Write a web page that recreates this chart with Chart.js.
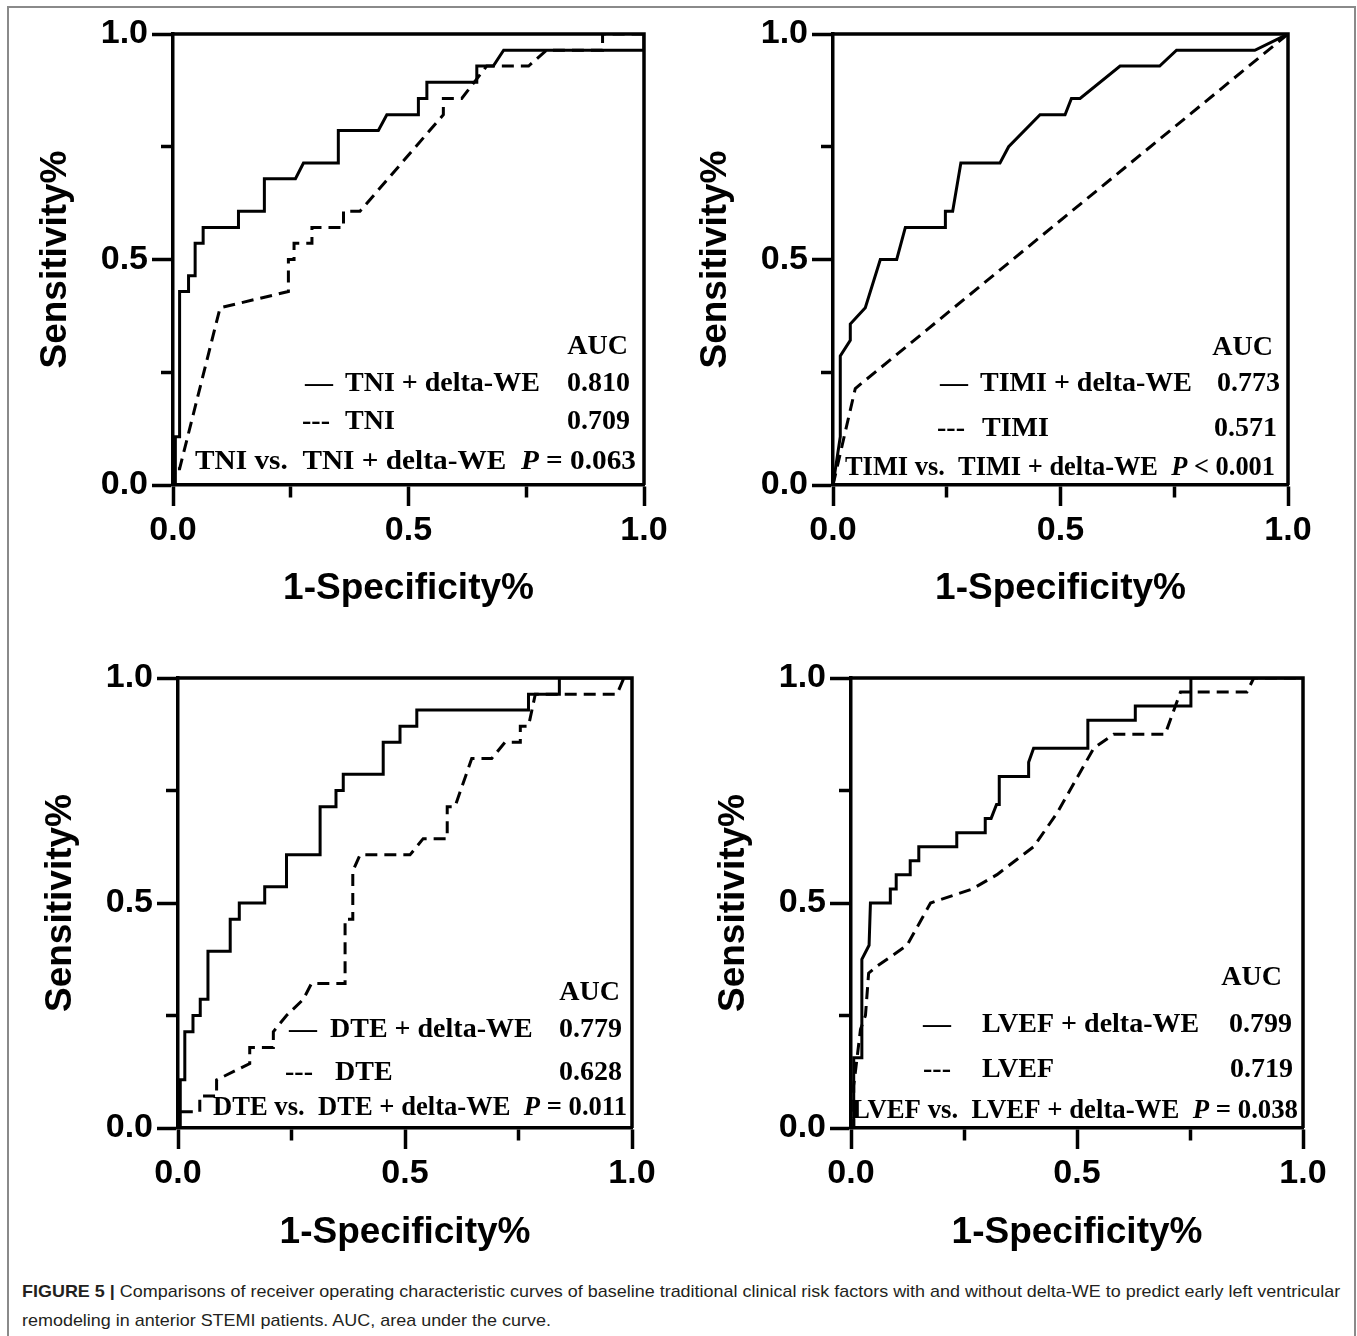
<!DOCTYPE html>
<html>
<head>
<meta charset="utf-8">
<title>Figure 5 ROC curves</title>
<script src="https://cdn.jsdelivr.net/npm/chart.js"></script>
<style>
  body { margin: 0; background: #fff; width: 1357px; height: 1336px; position: relative; overflow: hidden; }
  canvas { position: absolute; }
  #frame { position: absolute; left: 7px; top: 6px; width: 1349px; height: 1345px; border: 2px solid #8a8a8a; box-sizing: border-box; }
  .cap { position: absolute; left: 22px; white-space: nowrap; font: 17px/29px "Liberation Sans", Arial, sans-serif; color: #231f20; transform-origin: 0 0; }
  #cap1 { top: 1277px; }
  #cap2 { top: 1306px; }
</style>
</head>
<body>
<div id="frame"></div>
<canvas id="c0" width="700" height="620" style="left:0px;top:0px"></canvas>
<canvas id="c1" width="697" height="620" style="left:660px;top:0px"></canvas>
<canvas id="c2" width="700" height="620" style="left:5px;top:644px"></canvas>
<canvas id="c3" width="679" height="620" style="left:678px;top:644px"></canvas>
<div class="cap" id="cap1"><b>FIGURE 5 |</b> Comparisons of receiver operating characteristic curves of baseline traditional clinical risk factors with and without delta-WE to predict early left ventricular</div>
<div class="cap" id="cap2">remodeling in anterior STEMI patients. AUC, area under the curve.</div>

<script>
// ---- data (x = 1-specificity, y = sensitivity) ----

// TNI panel
var tniComboX = [0, 0.005, 0.005, 0.014, 0.014, 0.033, 0.033, 0.047, 0.047, 0.064, 0.064, 0.139, 0.139, 0.194, 0.194, 0.26, 0.277, 0.351, 0.351, 0.436, 0.454, 0.521, 0.521, 0.539, 0.539, 0.645, 0.645, 0.68, 0.702, 1, 1];
var tniComboY = [0, 0, 0.107, 0.107, 0.429, 0.429, 0.464, 0.464, 0.536, 0.536, 0.571, 0.571, 0.607, 0.607, 0.679, 0.679, 0.714, 0.714, 0.786, 0.786, 0.821, 0.821, 0.857, 0.857, 0.893, 0.893, 0.929, 0.929, 0.964, 0.964, 1];
var tniX = [0, 0.005, 0.014, 0.1, 0.245, 0.245, 0.257, 0.257, 0.295, 0.295, 0.362, 0.362, 0.397, 0.574, 0.574, 0.613, 0.666, 0.755, 0.793, 0.912, 0.912, 1];
var tniY = [0, 0.036, 0.036, 0.393, 0.429, 0.5, 0.5, 0.536, 0.536, 0.571, 0.571, 0.607, 0.607, 0.821, 0.857, 0.857, 0.929, 0.929, 0.964, 0.964, 1, 1];

// TIMI panel
var timiComboX = [0, 0.016, 0.016, 0.038, 0.038, 0.071, 0.104, 0.14, 0.159, 0.247, 0.247, 0.263, 0.281, 0.367, 0.386, 0.455, 0.51, 0.524, 0.543, 0.631, 0.718, 0.755, 0.927, 1];
var timiComboY = [0, 0.107, 0.286, 0.321, 0.357, 0.393, 0.5, 0.5, 0.571, 0.571, 0.607, 0.607, 0.714, 0.714, 0.75, 0.821, 0.821, 0.857, 0.857, 0.929, 0.929, 0.964, 0.964, 1];
var timiX = [0, 0.049, 1];
var timiY = [0, 0.214, 1];

// DTE panel
var dteComboX = [0, 0.005, 0.005, 0.015, 0.015, 0.033, 0.033, 0.049, 0.049, 0.066, 0.066, 0.115, 0.115, 0.135, 0.135, 0.191, 0.191, 0.239, 0.239, 0.313, 0.313, 0.348, 0.348, 0.364, 0.364, 0.452, 0.452, 0.489, 0.489, 0.526, 0.526, 0.772, 0.772, 0.84, 0.84, 1];
var dteComboY = [0, 0, 0.107, 0.107, 0.214, 0.214, 0.25, 0.25, 0.286, 0.286, 0.393, 0.393, 0.464, 0.464, 0.5, 0.5, 0.536, 0.536, 0.607, 0.607, 0.714, 0.714, 0.75, 0.75, 0.786, 0.786, 0.857, 0.857, 0.893, 0.893, 0.929, 0.929, 0.964, 0.964, 1, 1];
var dteX = [0, 0, 0.037, 0.048, 0.048, 0.085, 0.085, 0.158, 0.158, 0.21, 0.21, 0.239, 0.276, 0.294, 0.368, 0.368, 0.385, 0.385, 0.401, 0.511, 0.54, 0.593, 0.593, 0.61, 0.647, 0.691, 0.72, 0.754, 0.754, 0.772, 0.787, 0.967, 0.982, 1];
var dteY = [0, 0.036, 0.036, 0.036, 0.071, 0.071, 0.107, 0.143, 0.179, 0.179, 0.214, 0.25, 0.286, 0.321, 0.321, 0.464, 0.464, 0.571, 0.607, 0.607, 0.643, 0.643, 0.714, 0.714, 0.821, 0.821, 0.857, 0.857, 0.893, 0.893, 0.964, 0.964, 1, 1];

// LVEF panel
var lvefComboX = [0, 0.006, 0.006, 0.024, 0.024, 0.04, 0.043, 0.087, 0.087, 0.1, 0.1, 0.131, 0.131, 0.15, 0.15, 0.234, 0.234, 0.297, 0.297, 0.31, 0.322, 0.328, 0.328, 0.393, 0.393, 0.404, 0.524, 0.524, 0.629, 0.629, 0.752, 0.752, 1];
var lvefComboY = [0, 0, 0.156, 0.156, 0.375, 0.406, 0.5, 0.5, 0.531, 0.531, 0.563, 0.563, 0.594, 0.594, 0.625, 0.625, 0.656, 0.656, 0.688, 0.688, 0.719, 0.719, 0.781, 0.781, 0.813, 0.844, 0.844, 0.906, 0.906, 0.938, 0.938, 1, 1];
var lvefX = [0, 0.006, 0.006, 0.021, 0.032, 0.039, 0.058, 0.124, 0.176, 0.268, 0.323, 0.404, 0.456, 0.537, 0.581, 0.695, 0.729, 0.876, 0.891, 1];
var lvefY = [0, 0, 0.094, 0.219, 0.25, 0.344, 0.36, 0.406, 0.5, 0.531, 0.563, 0.625, 0.7, 0.844, 0.875, 0.875, 0.969, 0.969, 1, 1];

var seriesNames = [['TNI + delta-WE', 'TNI'], ['TIMI + delta-WE', 'TIMI'], ['DTE + delta-WE', 'DTE'], ['LVEF + delta-WE', 'LVEF']];
var aucValues = [['0.810', '0.709'], ['0.773', '0.571'], ['0.779', '0.628'], ['0.799', '0.719']];
var pSigns = ['=', '<', '=', '='];
var pValues = ['0.063', '0.001', '0.011', '0.038'];
var tickValues = [0, 0.5, 1];
var tickLabels = ['0.0', '0.5', '1.0'];
var xTitle = '1-Specificity%';
var yTitle = 'Sensitivity%';

var curves = [
  [tniComboX, tniComboY, tniX, tniY],
  [timiComboX, timiComboY, timiX, timiY],
  [dteComboX, dteComboY, dteX, dteY],
  [lvefComboX, lvefComboY, lvefX, lvefY]
];

// ---- layout (pixels inside each canvas) ----
var SANS = '"Liberation Sans", Arial, sans-serif';
var SERIF = '"Liberation Serif", "Times New Roman", serif';
var plotRight = [644, 628, 627, 625];   // right edge of plot area in canvas
var plotBottom = [485, 485, 484, 484];  // bottom edge of plot area in canvas
// annotation spots: auc [dxR, dyB]; rows [symDxL, labelDxL, valueDxR, dyB]; last row [dxL, dxR, dyB]
var noteSpots = [
  { auc: [-16, -131], r2: [132, 172, -14, -94], r3: [129, 172, -14, -56], r4: [22, -8, -16] },
  { auc: [-15, -130], r2: [107, 147, -8, -94], r3: [104, 149, -11, -49], r4: [12, -13, -10] },
  { auc: [-12, -128], r2: [111, 152, -10, -91], r3: [107, 157, -10, -48], r4: [35, -5, -13] },
  { auc: [-21, -143], r2: [72, 131, -11, -96], r3: [72, 131, -10, -51], r4: [1, -5, -10] }
];

function pts(xs, ys) {
  return xs.map(function (x, i) { return { x: x, y: ys[i] }; });
}

// top and right border of the plot box
var boxPlugin = {
  id: 'box',
  afterDatasetsDraw: function (chart) {
    var a = chart.chartArea, c = chart.ctx;
    c.save();
    c.strokeStyle = '#000';
    c.lineWidth = 3.5;
    c.beginPath();
    c.moveTo(a.left, a.top);
    c.lineTo(a.right, a.top);
    c.lineTo(a.right, a.bottom);
    c.stroke();
    c.restore();
  }
};

var BOLD = 'bold 28px ' + SERIF;
var BOLDIT = 'italic bold 28px ' + SERIF;

function notesPlugin(i) {
  return {
    id: 'notes' + i,
    afterDraw: function (chart) {
      var a = chart.chartArea, c = chart.ctx, n = noteSpots[i];
      c.save();
      c.fillStyle = '#000';
      c.textBaseline = 'alphabetic';
      c.font = BOLD;
      c.textAlign = 'right';
      c.fillText('AUC', a.right + n.auc[0], a.bottom + n.auc[1]);

      var rows = [[n.r2, '\u2014', seriesNames[i][0], aucValues[i][0]], [n.r3, '---', seriesNames[i][1], aucValues[i][1]]];
      rows.forEach(function (r) {
        var s = r[0];
        c.textAlign = 'left';
        c.fillText(r[1], a.left + s[0], a.bottom + s[3]);
        c.fillText(r[2], a.left + s[1], a.bottom + s[3]);
        c.textAlign = 'right';
        c.fillText(r[3], a.right + s[2], a.bottom + s[3]);
      });

      // comparison line, squeezed to span the same width as in the figure
      var parts = [
        [BOLD, seriesNames[i][1] + ' vs.  ' + seriesNames[i][0] + '  '],
        [BOLDIT, 'P'],
        [BOLD, ' ' + pSigns[i] + ' ' + pValues[i]]
      ];
      var total = 0;
      parts.forEach(function (p) { c.font = p[0]; total += c.measureText(p[1]).width; });
      var x0 = a.left + n.r4[0], x1 = a.right + n.r4[1];
      c.translate(x0, a.bottom + n.r4[2]);
      c.scale((x1 - x0) / total, 1);
      c.textAlign = 'left';
      var x = 0;
      parts.forEach(function (p) {
        c.font = p[0];
        c.fillText(p[1], x, 0);
        x += c.measureText(p[1]).width;
      });
      c.restore();
    }
  };
}

function isMajor(v) {
  return tickValues.indexOf(v) >= 0;
}

function axisTicks() {
  return {
    stepSize: 0.25,
    autoSkip: false,
    maxRotation: 0,
    color: '#000',
    font: { family: SANS, size: 34, weight: 'bold' },
    callback: function (v) {
      var k = tickValues.indexOf(v);
      return k >= 0 ? tickLabels[k] : '';
    }
  };
}

// minor ticks (0.25, 0.75) are about half as long: dash only the part next to the axis
function minorDash(ctx) {
  return isMajor(ctx.tick.value) ? [] : [11, 40];
}

function makeChart(i) {
  var canvas = document.getElementById('c' + i);
  var W = canvas.width, H = canvas.height;
  var cv = curves[i];
  new Chart(canvas, {
    type: 'line',
    data: {
      datasets: [
        { label: seriesNames[i][0], data: pts(cv[0], cv[1]), borderColor: '#000', borderWidth: 3, pointRadius: 0, tension: 0, fill: false },
        { label: seriesNames[i][1], data: pts(cv[2], cv[3]), borderColor: '#000', borderWidth: 3, borderDash: [12, 7], pointRadius: 0, tension: 0, fill: false }
      ]
    },
    options: {
      responsive: false,
      animation: false,
      events: [],
      layout: { padding: { left: 0, top: 34, right: W - plotRight[i], bottom: 0 } },
      plugins: { legend: { display: false }, tooltip: { enabled: false } },
      scales: {
        x: {
          type: 'linear', min: 0, max: 1,
          afterFit: function (s) { s.height = H - plotBottom[i]; },
          ticks: Object.assign(axisTicks(), { padding: 4 }),
          grid: { drawOnChartArea: false, drawTicks: true, tickLength: 21, tickWidth: 3.5, tickColor: '#000', tickBorderDash: minorDash },
          border: { display: true, color: '#000', width: 3.5 },
          title: { display: true, text: xTitle, color: '#000', font: { family: SANS, size: 37, weight: 'bold', lineHeight: 1.2 }, padding: { top: 0, bottom: 9 } }
        },
        y: {
          type: 'linear', min: 0, max: 1,
          afterFit: function (s) { s.width = 173; },
          ticks: Object.assign(axisTicks(), { padding: 4 }),
          grid: {
            drawOnChartArea: false, drawTicks: true, tickLength: 21, tickWidth: 3.5, tickColor: '#000',
            tickBorderDash: minorDash,
            tickBorderDashOffset: function (ctx) { return isMajor(ctx.tick.value) ? 0 : 42; }
          },
          border: { display: true, color: '#000', width: 3.5 },
          title: { display: true, text: yTitle, color: '#000', font: { family: SANS, size: 37, weight: 'bold', lineHeight: 1.2 }, padding: { top: 34, bottom: 0 } }
        }
      }
    },
    plugins: [boxPlugin, notesPlugin(i)]
  });
}

for (var i = 0; i < 4; i++) makeChart(i);

// squeeze caption to the width of the original
var cap1 = document.getElementById('cap1'), cap2 = document.getElementById('cap2');
var k = 1318 / cap1.scrollWidth;
cap1.style.transform = 'scaleX(' + k + ')';
cap2.style.transform = 'scaleX(' + k + ')';
</script>
</body>
</html>
